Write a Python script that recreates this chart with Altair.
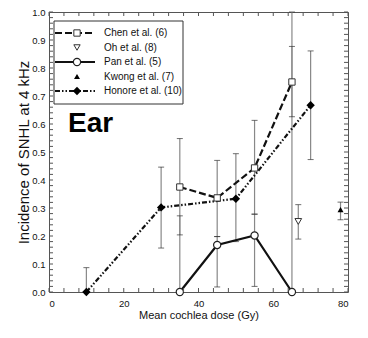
import altair as alt
import pandas as pd

# ---- data ----
chen_x = [35, 45, 55, 65]
chen_y = [0.375, 0.336, 0.443, 0.75]
chen_lo = [0.204, 0.198, 0.278, 0.626]
chen_hi = [0.548, 0.47, 0.613, 0.877]

pan_x = [35, 45, 55, 65]
pan_y = [0.0, 0.168, 0.202, 0.0]
pan_lo = [0.0, 0.018, 0.02, 0.0]
pan_hi = [0.272, 0.198, 0.278, 1.0]

hon_x = [10, 30, 50, 70]
hon_y = [0.0, 0.302, 0.333, 0.667]
hon_lo = [0.0, 0.157, 0.18, 0.473]
hon_hi = [0.087, 0.446, 0.494, 0.861]

oh_x = [66.7]
oh_y = [0.252]
oh_lo = [0.189]
oh_hi = [0.312]

kw_x = [78]
kw_y = [0.294]
kw_lo = [0.258]
kw_hi = [0.321]

legend_labels = ["Chen et al. (6)", "Oh et al. (8)", "Pan et al. (5)",
                 "Kwong et al. (7)", "Honore et al. (10)"]

x_ticks = list(range(0, 81, 4))
y_ticks = [i / 50 for i in range(51)]
x_labels = [0, 20, 40, 60, 80]
y_labels = [0.0, 0.1, 0.2, 0.3, 0.4, 0.5, 0.6, 0.7, 0.8, 0.9, 1.0]

W, H = 299, 280
FONT = "Liberation Sans, Arial"

def df(x, y, lo, hi):
    return pd.DataFrame({"x": x, "y": y, "lo": lo, "hi": hi})

chen = df(chen_x, chen_y, chen_lo, chen_hi)
pan = df(pan_x, pan_y, pan_lo, pan_hi)
hon = df(hon_x, hon_y, hon_lo, hon_hi)
oh = df(oh_x, oh_y, oh_lo, oh_hi)
kw = df(kw_x, kw_y, kw_lo, kw_hi)
allerr = pd.concat([chen, pan, hon, oh, kw], ignore_index=True)

xs = alt.Scale(domain=[0, 80], nice=False)
ys = alt.Scale(domain=[0, 1], nice=False)

xaxis = alt.Axis(values=x_labels, title="Mean cochlea dose (Gy)", domain=False, ticks=False,
                 grid=False, labelFont=FONT, labelFontSize=9.5, labelPadding=6, labelColor="#111",
                 labelOverlap=False,
                 titleFont=FONT, titleFontSize=11, titleFontWeight="normal", titlePadding=2,
                 titleColor="#111")
yaxis = alt.Axis(values=y_labels, format=".1f", title="Incidence of SNHL at 4 kHz", domain=False,
                 ticks=False, grid=False, labelFont=FONT, labelFontSize=9.5, labelPadding=4,
                 labelOverlap=False, labelColor="#111", titleFont=FONT, titleFontSize=15,
                 titleFontWeight="normal", titleColor="#111", titlePadding=0)

def X(f="x"):
    return alt.X(f + ":Q", scale=xs, axis=xaxis)

def Y(f="y"):
    return alt.Y(f + ":Q", scale=ys, axis=yaxis)

# error bars
err_rule = alt.Chart(allerr).mark_rule(color="#888", strokeWidth=1.2).encode(
    x=X(), y=Y("lo"), y2="hi:Q")
cap_lo = alt.Chart(allerr).mark_tick(orient="horizontal", color="#333", size=6, thickness=1).encode(
    x=X(), y=Y("lo"))
cap_hi = alt.Chart(allerr).mark_tick(orient="horizontal", color="#333", size=6, thickness=1).encode(
    x=X(), y=Y("hi"))

# lines
chen_line = alt.Chart(chen).mark_line(color="#111", strokeWidth=2.2, strokeDash=[7, 3]).encode(x=X(), y=Y())
pan_line = alt.Chart(pan).mark_line(color="#111", strokeWidth=2.2).encode(x=X(), y=Y())
hon_line = alt.Chart(hon).mark_line(color="#111", strokeWidth=2.2,
                                    strokeDash=[5, 2, 1.5, 2, 1.5, 2]).encode(x=X(), y=Y())

# markers
chen_pts = alt.Chart(chen).mark_point(shape="square", filled=True, fill="white", stroke="#333",
                                      strokeWidth=1, size=40, opacity=1).encode(x=X(), y=Y())
pan_pts = alt.Chart(pan).mark_point(shape="circle", filled=True, fill="white", stroke="#222",
                                    strokeWidth=1.2, size=52, opacity=1).encode(x=X(), y=Y())
hon_pts = alt.Chart(hon).mark_point(shape="diamond", filled=True, fill="#000", size=70,
                                    opacity=1).encode(x=X(), y=Y())
oh_pts = alt.Chart(oh).mark_point(shape="triangle-down", filled=True, fill="white", stroke="#333",
                                  strokeWidth=1, size=45, opacity=1).encode(x=X(), y=Y())
kw_pts = alt.Chart(kw).mark_point(shape="triangle-up", filled=True, fill="#000", size=36,
                                  opacity=1).encode(x=X(), y=Y())

# inner ticks of the frame
xt = pd.DataFrame({"x": x_ticks})
yt = pd.DataFrame({"y": y_ticks})
tick_style = dict(color="#555", strokeWidth=1)
bot_ticks = alt.Chart(xt).mark_rule(**tick_style).encode(x=X(), y=alt.value(H), y2=alt.value(H - 4))
top_ticks = alt.Chart(xt).mark_rule(**tick_style).encode(x=X(), y=alt.value(0), y2=alt.value(4))
left_ticks = alt.Chart(yt).mark_rule(**tick_style).encode(y=Y(), x=alt.value(0), x2=alt.value(4))
right_ticks = alt.Chart(yt).mark_rule(**tick_style).encode(y=Y(), x=alt.value(W), x2=alt.value(W - 4))

# legend (drawn by hand)
one = pd.DataFrame({"a": [0]})
rows = [21, 35.5, 50, 64.5, 79]
lx0, lx1, lxm, ltx = 6, 46, 28, 55
leg_box = alt.Chart(one).mark_rect(fill="white", stroke="#333", strokeWidth=1).encode(
    x=alt.value(5), x2=alt.value(134), y=alt.value(9), y2=alt.value(92))
leg = [leg_box]
leg.append(alt.Chart(one).mark_rule(color="#111", strokeWidth=2.2, strokeDash=[7, 3]).encode(
    x=alt.value(lx0), x2=alt.value(lx1), y=alt.value(rows[0])))
leg.append(alt.Chart(one).mark_point(shape="square", filled=True, fill="white", stroke="#333",
                                     strokeWidth=1, size=40, opacity=1).encode(x=alt.value(lxm), y=alt.value(rows[0])))
leg.append(alt.Chart(one).mark_point(shape="triangle-down", filled=True, fill="white", stroke="#333",
                                     strokeWidth=1, size=40, opacity=1).encode(x=alt.value(lxm), y=alt.value(rows[1])))
leg.append(alt.Chart(one).mark_rule(color="#111", strokeWidth=2.2).encode(
    x=alt.value(lx0), x2=alt.value(lx1), y=alt.value(rows[2])))
leg.append(alt.Chart(one).mark_point(shape="circle", filled=True, fill="white", stroke="#222",
                                     strokeWidth=1.2, size=52, opacity=1).encode(x=alt.value(lxm), y=alt.value(rows[2])))
leg.append(alt.Chart(one).mark_point(shape="triangle-up", filled=True, fill="#000", size=36,
                                     opacity=1).encode(x=alt.value(lxm), y=alt.value(rows[3])))
leg.append(alt.Chart(one).mark_rule(color="#111", strokeWidth=2.2, strokeDash=[5, 2, 1.5, 2, 1.5, 2]).encode(
    x=alt.value(lx0), x2=alt.value(lx1), y=alt.value(rows[4])))
leg.append(alt.Chart(one).mark_point(shape="diamond", filled=True, fill="#000", size=70,
                                     opacity=1).encode(x=alt.value(lxm), y=alt.value(rows[4])))
for lab, ry in zip(legend_labels, rows):
    leg.append(alt.Chart(one).mark_text(text=lab, font=FONT, fontSize=10, align="left",
                                        baseline="middle", color="#111").encode(
        x=alt.value(ltx), y=alt.value(ry)))

ear = alt.Chart(one).mark_text(text="Ear", font=FONT, fontSize=28,
                               fontWeight="bold", align="left", baseline="alphabetic",
                               color="#000").encode(x=alt.value(19), y=alt.value(120))

chart = alt.layer(
    err_rule, cap_lo, cap_hi,
    chen_line, pan_line, hon_line,
    chen_pts, pan_pts, hon_pts, oh_pts, kw_pts,
    bot_ticks, top_ticks, left_ticks, right_ticks,
    *leg, ear
).properties(
    width=W, height=H,
    autosize=alt.AutoSizeParams(type="none"),
    padding={"left": 49, "top": 12, "right": 20, "bottom": 46},
    background="white",
).configure_view(stroke="#555", strokeWidth=1)

chart.save("out.html", embed_options={"renderer": "svg", "actions": False})
